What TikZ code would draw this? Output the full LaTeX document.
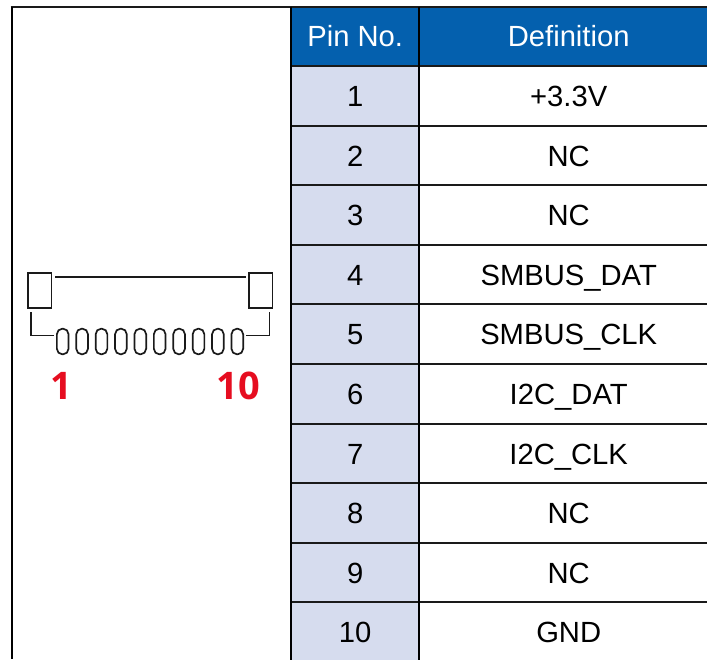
\documentclass[tikz,border=0pt]{standalone}
\usepackage{fontspec}
\setmainfont{Liberation Sans}
\newfontfamily\labelfont{Open Sans}
\definecolor{headblue}{HTML}{0460AE}
\definecolor{pinfill}{HTML}{D6DCEE}
\definecolor{rulecol}{HTML}{1A1A1A}
\definecolor{numred}{HTML}{E60D20}
\tikzset{
  cell/.style={rectangle,inner sep=0pt,outer sep=0pt,anchor=north west,text height=21pt,text depth=0pt,font=\fontsize{29.2}{31}\selectfont},
  pincol/.style={cell,minimum width=128pt},
  defcol/.style={cell,minimum width=299pt},
  rulev/.style={draw=black,line width=2pt},
  ruleh/.style={draw=rulecol,line width=2pt},
  conn/.style={draw=rulecol,line width=1.7pt},
  latch/.style={rectangle,draw=rulecol,line width=1.7pt,minimum width=23.5pt,minimum height=35.5pt,inner sep=0pt},
  contact/.style={rectangle,draw=rulecol,line width=1.7pt,rounded corners=5.6pt,minimum width=11.7pt,minimum height=25.7pt,inner sep=0pt},
  pinnum/.style={text=numred,inner sep=0pt,font=\fontsize{38}{40}\selectfont\labelfont\bfseries}
}
\begin{document}
\begin{tikzpicture}[x=1pt,y=-1pt]
\useasboundingbox (0,0) rectangle (707,659);
\clip (0,0) rectangle (707,659);
% header
\node[pincol,fill=headblue,text=white,minimum height=59.5pt,text height=19.5pt] (p0) at (291.2,6.5) {Pin No.};
\node[defcol,fill=headblue,text=white,minimum height=59.5pt,text height=19.5pt] (d0) at (419.2,6.5) {Definition};
% rows
\foreach \rn/\rt/\rh/\rd in {1/66/59.8/+3.3V,2/125.8/59.5/NC,3/185.2/59.5/NC,4/244.8/59.5/SMBUS\_DAT,5/304.2/59.8/SMBUS\_CLK,6/364/59.8/I2C\_DAT,7/423.8/59.5/I2C\_CLK,8/483.2/59.5/NC,9/542.8/59.5/NC,10/602.2/60/GND}{
  \node[pincol,fill=pinfill,minimum height=\rh pt] (p\rn) at (291.2,\rt) {\rn};
  \node[defcol,minimum height=\rh pt] (d\rn) at (419.2,\rt) {\rd};
}
% rules
\coordinate (tl) at (10.5,6.5);
\coordinate (tv) at (11.5,6.5);
\coordinate (bl) at (11.5,659);
\draw[ruleh] (tl) -- (d0.north east);
\draw[rulev] (tv) -- (bl);
\foreach \rn in {1,...,10}{
  \draw[ruleh] (p\rn.north west) -- (d\rn.north east);
}
\draw[rulev] (p0.north west) -- (p10.south west);
\draw[rulev] (p0.north east) -- (p10.south east);
% connector drawing
\node[latch] (lb) at (39.7,290.5) {};
\node[latch] (rb) at (260.8,290.5) {};
\foreach \ci in {1,...,10}{
  \node[contact] (c\ci) at ({62.7+(\ci-1)*19.4},341.5) {};
}
\coordinate (lt) at (52.5,277);
\coordinate (rt) at (248,277);
\coordinate (ls) at (31,312);
\coordinate (rs) at (269.5,312);
\coordinate (lc) at (31,335.5);
\coordinate (rc) at (269.5,335.5);
\draw[conn,shorten <=2.5pt,shorten >=2.5pt] (lt) -- (rt);
\draw[conn,shorten >=2pt] (ls) -- (lc) -- (c1.west |- lc);
\draw[conn,shorten >=2pt] (rs) -- (rc) -- (c10.east |- rc);
% labels
\node[pinnum,anchor=base] (n1) at (61,399) {1};
\node[pinnum,anchor=base] (n10) at (238.5,399) {10};
\end{tikzpicture}
\end{document}
